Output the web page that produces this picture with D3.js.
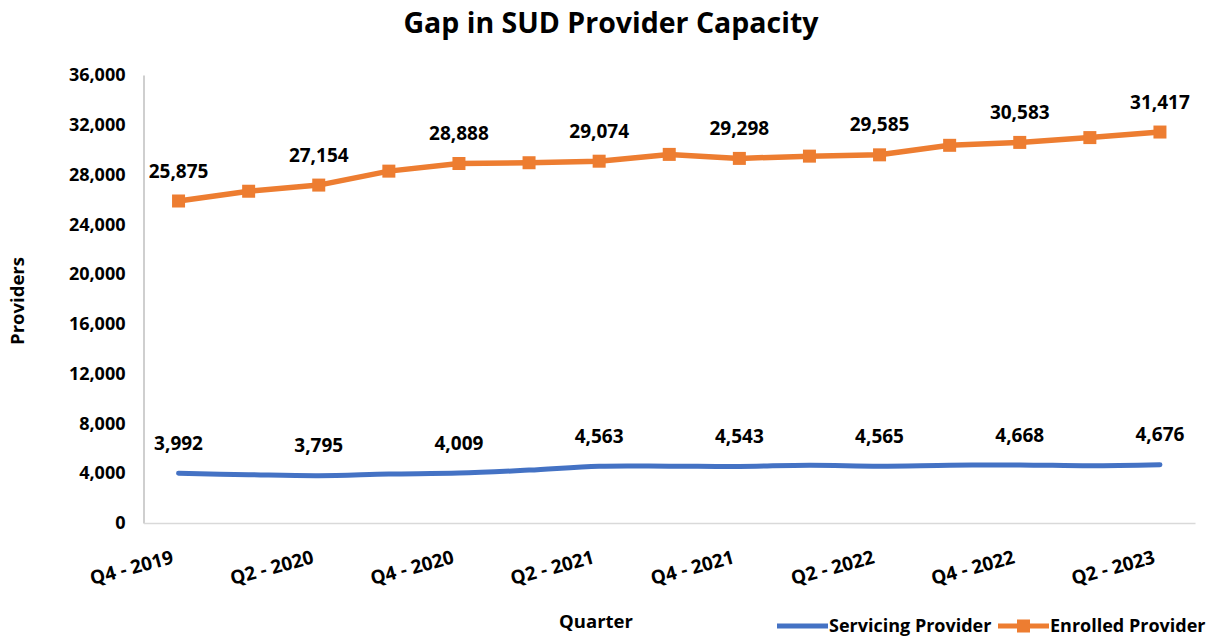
<!DOCTYPE html>
<html>
<head>
<meta charset="utf-8">
<script src="https://cdn.jsdelivr.net/npm/d3@7"></script>
<style>
  html, body { margin: 0; padding: 0; background: #ffffff; }
  svg { display: block; font-family: "Open Sans", "Noto Sans", sans-serif; }
</style>
</head>
<body>
<svg id="chart" width="1220" height="640"></svg>
<script>
// ---- data ----
const quarters = [
  "Q4 - 2019", "Q1 - 2020", "Q2 - 2020", "Q3 - 2020", "Q4 - 2020",
  "Q1 - 2021", "Q2 - 2021", "Q3 - 2021", "Q4 - 2021", "Q1 - 2022",
  "Q2 - 2022", "Q3 - 2022", "Q4 - 2022", "Q1 - 2023", "Q2 - 2023"
];
const servicingProvider = [3992, 3880, 3795, 3930, 4009, 4250, 4563, 4570, 4543, 4640, 4565, 4640, 4668, 4600, 4676];
const enrolledProvider  = [25875, 26660, 27154, 28275, 28888, 28950, 29074, 29620, 29298, 29480, 29585, 30350, 30583, 30970, 31417];
const yTicks = [0, 4000, 8000, 12000, 16000, 20000, 24000, 28000, 32000, 36000];
const labelledIndexes = [0, 2, 4, 6, 8, 10, 12, 14];
const seriesNames = ["Servicing Provider", "Enrolled Provider"];
const seriesColors = ["#4472C4", "#ED7D31"];
const chartTitle = "Gap in SUD Provider Capacity";
const xTitle = "Quarter";
const yTitle = "Providers";

(function () {
// ---- layout ----
const svg = d3.select("#chart");
const pLeft = 143.5, pRight = 1195, pTop = 75, pBottom = 523;

const x = d3.scaleBand().domain(quarters).range([pLeft, pRight]).padding(0);
const cx = q => x(q) + x.bandwidth() / 2;
const y = d3.scaleLinear().domain([0, 36000]).range([pBottom, pTop]);
const fmt = d3.format(",");

// title
svg.append("text")
  .attr("x", 611).attr("y", 33)
  .attr("text-anchor", "middle")
  .attr("font-size", 28.5).attr("font-weight", "bold").attr("fill", "#000")
  .text(chartTitle);

// y axis
const yAxis = svg.append("g")
  .attr("transform", `translate(${pLeft},0)`)
  .call(d3.axisLeft(y).tickValues(yTicks).tickSize(0).tickPadding(18).tickFormat(fmt));
yAxis.select(".domain").attr("stroke", "#BFBFBF").attr("stroke-width", 1.5);
yAxis.selectAll("text").attr("font-size", 18).attr("font-weight", "bold").attr("fill", "#000")
  .attr("font-family", "'Open Sans', sans-serif");

// x axis
const xAxis = svg.append("g")
  .attr("transform", `translate(0,${pBottom})`)
  .call(d3.axisBottom(x).tickValues(labelledIndexes.map(i => quarters[i])).tickSize(0).tickFormat(d => d));
xAxis.select(".domain").attr("stroke", "#D9D9D9").attr("stroke-width", 1.5);
xAxis.selectAll(".tick text")
  .attr("font-size", 19).attr("font-weight", "bold").attr("fill", "#000")
  .attr("font-family", "'Open Sans', sans-serif")
  .attr("text-anchor", "end")
  .attr("dy", null).attr("y", null)
  .attr("transform", "translate(-4,40) rotate(-15)");

// axis titles
svg.append("text")
  .attr("x", 596).attr("y", 628)
  .attr("text-anchor", "middle")
  .attr("font-size", 18.5).attr("font-weight", "bold").attr("fill", "#000")
  .text(xTitle);
svg.append("text")
  .attr("transform", "translate(24,301) rotate(-90)")
  .attr("text-anchor", "middle")
  .attr("font-size", 18.5).attr("font-weight", "bold").attr("fill", "#000")
  .text(yTitle);

// lines
const smooth = d3.line().x((d, i) => cx(quarters[i])).y(d => y(d)).curve(d3.curveCatmullRom.alpha(0.5));
const straight = d3.line().x((d, i) => cx(quarters[i])).y(d => y(d));

svg.append("path").datum(servicingProvider)
  .attr("d", smooth).attr("fill", "none")
  .attr("stroke", seriesColors[0]).attr("stroke-width", 5).attr("stroke-linecap", "round");

svg.append("path").datum(enrolledProvider)
  .attr("d", straight).attr("fill", "none")
  .attr("stroke", seriesColors[1]).attr("stroke-width", 5.5).attr("stroke-linejoin", "round");

svg.append("g").selectAll("rect").data(enrolledProvider).join("rect")
  .attr("x", (d, i) => cx(quarters[i]) - 6.5)
  .attr("y", d => y(d) - 6.5)
  .attr("width", 13).attr("height", 13)
  .attr("fill", seriesColors[1]);

// data labels
[servicingProvider, enrolledProvider].forEach(series => {
  svg.append("g").selectAll("text").data(labelledIndexes).join("text")
    .attr("x", i => cx(quarters[i]))
    .attr("y", i => y(series[i]) - 30)
    .attr("dy", "0.35em")
    .attr("text-anchor", "middle")
    .attr("font-size", 19).attr("font-weight", "bold").attr("fill", "#000")
    .text(i => fmt(series[i]));
});

// legend
const legend = svg.append("g").attr("transform", "translate(777,626)");
const legendItems = [
  { name: seriesNames[0], color: seriesColors[0], marker: false, x: 0 },
  { name: seriesNames[1], color: seriesColors[1], marker: true, x: 221 }
];
legendItems.forEach(it => {
  const g = legend.append("g").attr("transform", `translate(${it.x},0)`);
  g.append("line").attr("x1", 0).attr("x2", 51).attr("y1", 0).attr("y2", 0)
    .attr("stroke", it.color).attr("stroke-width", 5);
  if (it.marker) {
    g.append("rect").attr("x", 25.5 - 6.5).attr("y", -6.5).attr("width", 13).attr("height", 13).attr("fill", it.color);
  }
  g.append("text").attr("x", 52).attr("y", 0).attr("dy", "0.35em")
    .attr("font-size", 18).attr("font-weight", "bold").attr("fill", "#000")
    .text(it.name);
});
})();
</script>
</body>
</html>
